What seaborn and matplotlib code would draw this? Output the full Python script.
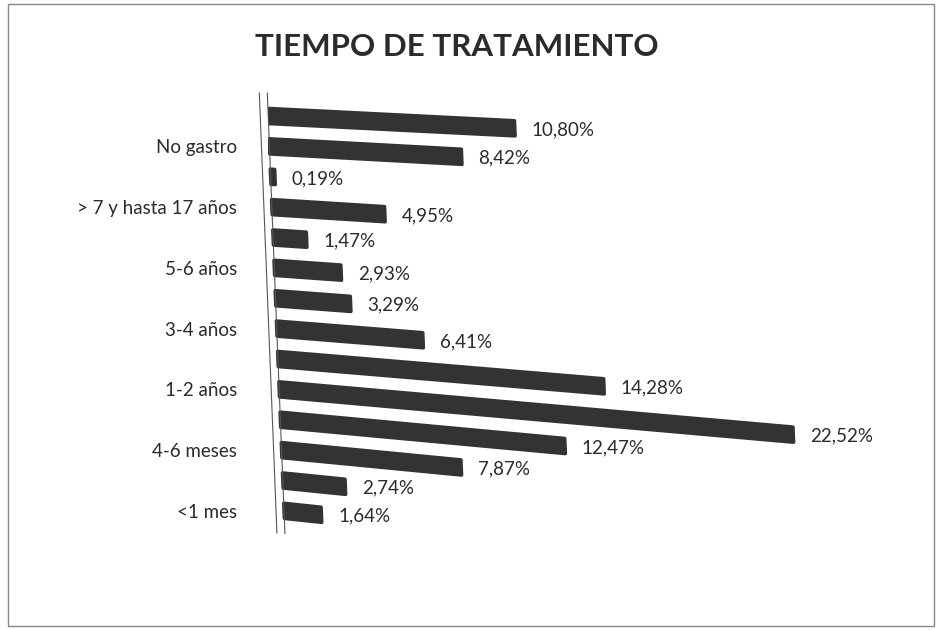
import numpy as np
import matplotlib
matplotlib.use("Agg")
import matplotlib.pyplot as plt
from matplotlib.transforms import Affine2D
from matplotlib.patches import Rectangle
import seaborn as sns

# ================= datos =================
# de arriba hacia abajo; solo una de cada dos etiquetas aparece en el gráfico
categorias = ["No contesta", "No gastro", "> 17 años", "> 7 y hasta 17 años",
              "6-7 años", "5-6 años", "4-5 años", "3-4 años", "2-3 años",
              "1-2 años", "7-12 meses", "4-6 meses", "1-3 meses", "<1 mes"]
etiquetas_visibles = ["", "No gastro", "", "> 7 y hasta 17 años", "", "5-6 años",
                      "", "3-4 años", "", "1-2 años", "", "4-6 meses", "", "<1 mes"]
porcentajes = [10.80, 8.42, 0.19, 4.95, 1.47, 2.93, 3.29, 6.41,
               14.28, 22.52, 12.47, 7.87, 2.74, 1.64]

# ================= estilo =================
sns.set_theme(style="white")
plt.rcParams['font.family'] = ['Lato', 'DejaVu Sans']
color_txt = "#2b2b2b"
color_barra = "#333333"

fig = plt.figure(figsize=(9.39, 6.3), dpi=100)
ax = fig.add_axes([0.285, 0.165, 0.62, 0.675])

sns.barplot(x=porcentajes, y=categorias, orient="h", color=color_barra,
            width=0.5, saturation=1, ax=ax)
ax.set_xlim(0, 25.5)
ax.set_ylim(13.5, -0.5)

# perspectiva tipo 3D de Excel: sesgo en coordenadas de pantalla,
# más fuerte en las barras de abajo
x0 = ax.bbox.x0
y0 = ax.bbox.y1
m = 0.04    # el eje se inclina hacia la derecha al bajar
n = len(categorias)


def sesgo(i):
    k = 0.05 + 0.055 * i / (n - 1)
    return Affine2D(np.array([[1.0, -m, m * y0],
                              [-k, 1.0, k * x0],
                              [0.0, 0.0, 1.0]]))


for i, p in enumerate(ax.patches):
    p.set_transform(ax.transData + sesgo(i))
    p.set_edgecolor(color_barra)
    p.set_linewidth(2.5)
    p.set_joinstyle("round")

# pared lateral del gráfico 3D
trans0 = ax.transData + sesgo(0)
ax.plot([0, 0], [-0.75, 13.75], color="#555555", lw=0.8, transform=trans0, clip_on=False)
ax.plot([-0.35, -0.35], [-0.75, 13.75], color="#555555", lw=0.8, transform=trans0, clip_on=False)

# etiquetas de valor
for i, v in enumerate(porcentajes):
    ax.annotate(f"{v:.2f}%".replace(".", ","), xy=(v, i), xycoords=ax.transData + sesgo(i),
                xytext=(12, -1), textcoords="offset points", va="center", ha="left",
                fontsize=13.5, color=color_txt, annotation_clip=False)

ax.set_yticks(range(n))
ax.set_yticklabels(etiquetas_visibles, fontsize=13.5, color=color_txt)
ax.tick_params(axis="y", length=0, pad=22)
ax.set_xticks([])
ax.set_xlabel("")
ax.set_ylabel("")
sns.despine(ax=ax, left=True, bottom=True)

fig.text(0.487, 0.925, "TIEMPO DE TRATAMIENTO", ha="center", va="center",
         fontsize=22.5, fontweight="bold", color=color_txt)

# marco del gráfico
fig.patches.append(Rectangle((0.008, 0.006), 0.987, 0.987, transform=fig.transFigure,
                             fill=False, edgecolor="#888888", lw=1))

plt.savefig("out.png", dpi=100)
